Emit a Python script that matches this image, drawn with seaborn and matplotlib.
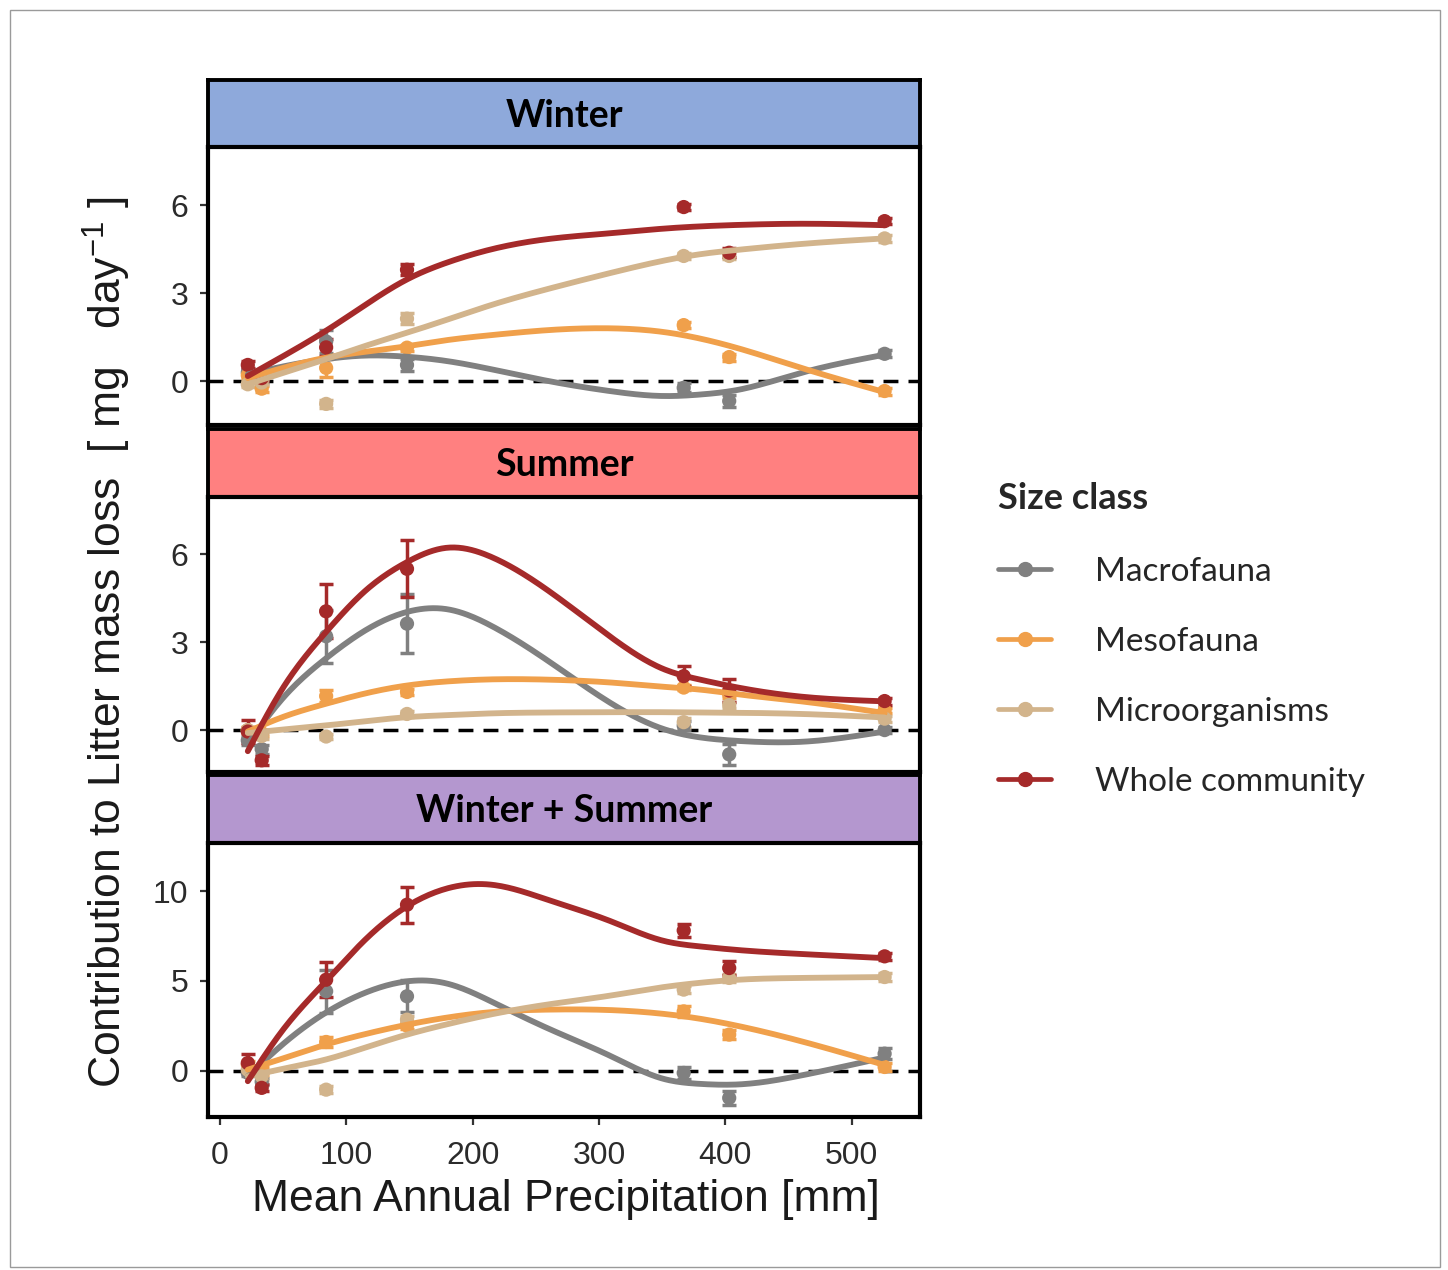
import numpy as np
import pandas as pd
import matplotlib
matplotlib.use("Agg")
import matplotlib.pyplot as plt
import seaborn as sns
from matplotlib.lines import Line2D
from matplotlib.patches import Rectangle

# ---------------- data ----------------
SEASONS = ["Winter", "Summer", "Winter + Summer"]
SERIES = ["Macrofauna", "Mesofauna", "Microorganisms", "Whole community"]
COLORS = ["#808080", "#F0A04B", "#D2B48C", "#A52A2A"]
STRIP_COLORS = ["#8EA9DB", "#FF8080", "#B497CF"]

SITES = [22, 33, 84, 148, 367, 403, 526]

# observed means (per site) and error bars
w_macro = [0.30, 0.05, 1.35, 0.55, -0.23, -0.68, 0.93]
w_macro_err = [0.10, 0.10, 0.40, 0.20, 0.15, 0.20, 0.12]
w_meso = [0.20, -0.26, 0.45, 1.14, 1.91, 0.82, -0.34]
w_meso_err = [0.10, 0.10, 0.30, 0.10, 0.10, 0.12, 0.12]
w_micro = [-0.11, -0.05, -0.78, 2.13, 4.27, 4.27, 4.87]
w_micro_err = [0.10, 0.10, 0.15, 0.18, 0.10, 0.10, 0.12]
w_whole = [0.55, 0.10, 1.15, 3.80, 5.94, 4.38, 5.46]
w_whole_err = [0.12, 0.10, 0.30, 0.18, 0.10, 0.15, 0.10]

s_macro = [-0.35, -0.65, 3.20, 3.63, 0.15, -0.83, 0.00]
s_macro_err = [0.15, 0.15, 0.90, 1.00, 0.15, 0.35, 0.10]
s_meso = [0.00, -0.10, 1.16, 1.30, 1.45, 1.20, 0.67]
s_meso_err = [0.10, 0.10, 0.20, 0.10, 0.10, 0.10, 0.10]
s_micro = [0.00, -0.20, -0.22, 0.55, 0.27, 0.85, 0.39]
s_micro_err = [0.10, 0.10, 0.10, 0.10, 0.15, 0.10, 0.10]
s_whole = [-0.05, -1.03, 4.05, 5.50, 1.84, 1.35, 0.99]
s_whole_err = [0.40, 0.15, 0.92, 0.97, 0.35, 0.40, 0.12]

c_macro = [-0.10, -0.60, 4.43, 4.15, -0.11, -1.50, 0.96]
c_macro_err = [0.20, 0.20, 1.20, 0.90, 0.35, 0.40, 0.30]
c_meso = [0.35, 0.00, 1.61, 2.52, 3.31, 2.02, 0.22]
c_meso_err = [0.20, 0.20, 0.30, 0.20, 0.30, 0.25, 0.20]
c_micro = [0.07, -0.30, -1.04, 2.85, 4.52, 5.17, 5.22]
c_micro_err = [0.20, 0.20, 0.20, 0.20, 0.20, 0.20, 0.20]
c_whole = [0.44, -0.94, 5.07, 9.24, 7.81, 5.72, 6.37]
c_whole_err = [0.50, 0.20, 0.97, 1.00, 0.35, 0.40, 0.20]

# fitted smooth curves, read at these precipitation values
FIT_X = [22, 50, 84, 115, 148, 180, 215, 260, 310, 350, 380, 410, 460, 526]
w_fit_macro = [0.23, 0.50, 0.75, 0.87, 0.83, 0.68, 0.40, 0.00, -0.35, -0.51, -0.46, -0.30, 0.28, 0.90]
w_fit_meso = [0.10, 0.45, 0.80, 1.00, 1.19, 1.40, 1.57, 1.74, 1.80, 1.68, 1.45, 1.12, 0.45, -0.38]
w_fit_micro = [-0.11, 0.28, 0.75, 1.20, 1.65, 2.10, 2.60, 3.15, 3.70, 4.10, 4.33, 4.48, 4.68, 4.87]
w_fit_whole = [0.17, 0.85, 1.72, 2.60, 3.47, 4.05, 4.50, 4.85, 5.05, 5.20, 5.28, 5.33, 5.37, 5.32]

s_fit_macro = [-0.47, 1.10, 2.45, 3.40, 4.03, 4.12, 3.55, 2.35, 0.90, 0.05, -0.25, -0.37, -0.40, -0.05]
s_fit_meso = [-0.05, 0.45, 0.90, 1.25, 1.52, 1.66, 1.73, 1.72, 1.62, 1.48, 1.38, 1.22, 0.98, 0.58]
s_fit_micro = [-0.10, 0.02, 0.16, 0.30, 0.44, 0.51, 0.57, 0.60, 0.61, 0.61, 0.60, 0.59, 0.55, 0.43]
s_fit_whole = [-0.72, 1.45, 3.35, 4.75, 5.73, 6.22, 5.90, 4.75, 3.15, 2.10, 1.72, 1.45, 1.14, 0.98]

c_fit_macro = [-0.30, 1.50, 3.25, 4.35, 4.98, 4.85, 3.85, 2.35, 0.80, -0.42, -0.72, -0.75, -0.25, 0.75]
c_fit_meso = [0.07, 0.70, 1.47, 2.05, 2.57, 2.97, 3.27, 3.41, 3.38, 3.18, 2.90, 2.50, 1.65, 0.33]
c_fit_micro = [-0.30, 0.12, 0.64, 1.30, 2.02, 2.60, 3.15, 3.70, 4.20, 4.65, 4.90, 5.07, 5.17, 5.22]
c_fit_whole = [-0.57, 2.30, 5.00, 7.30, 9.15, 10.15, 10.35, 9.50, 8.30, 7.25, 6.92, 6.72, 6.50, 6.27]

Y_TICKS = [[0, 3, 6], [0, 3, 6], [0, 5, 10]]
Y_LIMS = [(-1.5, 7.99), (-1.43, 7.95), (-2.56, 12.67)]
X_TICKS = [0, 100, 200, 300, 400, 500]
X_LIM = (-9.5, 554)

points = {
    "Winter": [(w_macro, w_macro_err), (w_meso, w_meso_err), (w_micro, w_micro_err), (w_whole, w_whole_err)],
    "Summer": [(s_macro, s_macro_err), (s_meso, s_meso_err), (s_micro, s_micro_err), (s_whole, s_whole_err)],
    "Winter + Summer": [(c_macro, c_macro_err), (c_meso, c_meso_err), (c_micro, c_micro_err), (c_whole, c_whole_err)],
}
fits = {
    "Winter": [w_fit_macro, w_fit_meso, w_fit_micro, w_fit_whole],
    "Summer": [s_fit_macro, s_fit_meso, s_fit_micro, s_fit_whole],
    "Winter + Summer": [c_fit_macro, c_fit_meso, c_fit_micro, c_fit_whole],
}


def natural_spline(x, y, xs):
    """Smooth rendering of a fitted curve read at knots x."""
    x = np.asarray(x, float)
    y = np.asarray(y, float)
    n = len(x)
    h = np.diff(x)
    A = np.zeros((n, n))
    b = np.zeros(n)
    A[0, 0] = 1
    A[-1, -1] = 1
    for i in range(1, n - 1):
        A[i, i - 1] = h[i - 1]
        A[i, i] = 2 * (h[i - 1] + h[i])
        A[i, i + 1] = h[i]
        b[i] = 6 * ((y[i + 1] - y[i]) / h[i] - (y[i] - y[i - 1]) / h[i - 1])
    M = np.linalg.solve(A, b)
    idx = np.clip(np.searchsorted(x, xs) - 1, 0, n - 2)
    x0, x1 = x[idx], x[idx + 1]
    y0, y1 = y[idx], y[idx + 1]
    m0, m1 = M[idx], M[idx + 1]
    hh = x1 - x0
    t0 = x1 - xs
    t1 = xs - x0
    return (m0 * t0 ** 3 + m1 * t1 ** 3) / (6 * hh) + (y0 / hh - m0 * hh / 6) * t0 + (y1 / hh - m1 * hh / 6) * t1


# ---------------- figure ----------------
sns.set_theme(style="white")
plt.rcParams["font.family"] = ["Liberation Sans", "DejaVu Sans"]
plt.rcParams["mathtext.fontset"] = "custom"
plt.rcParams["mathtext.rm"] = "Liberation Sans"
plt.rcParams["mathtext.it"] = "Liberation Sans"

W, H = 1448, 1270
fig = plt.figure(figsize=(W / 100, H / 100), dpi=100)
fig.patch.set_facecolor("white")
fig.add_artist(Rectangle((10 / W, 3 / H), 1430 / W, 1257 / H, transform=fig.transFigure,
                         fill=False, edgecolor="#9a9a9a", lw=1.0))


def rect(x0, y0, x1, y1):
    return [x0 / W, 1 - y1 / H, (x1 - x0) / W, (y1 - y0) / H]


strip_boxes = [(208, 80, 920, 147), (208, 429, 920, 497), (208, 775, 920, 843)]
plot_boxes = [(208, 147, 920, 425), (208, 497, 920, 772), (208, 843, 920, 1117)]

title_font = ["Lato", "DejaVu Sans"]
xs_dense = np.linspace(FIT_X[0], FIT_X[-1], 300)

for k, season in enumerate(SEASONS):
    sax = fig.add_axes(rect(*strip_boxes[k]))
    sax.set_facecolor(STRIP_COLORS[k])
    sax.set_xticks([])
    sax.set_yticks([])
    for sp in sax.spines.values():
        sp.set_color("black")
        sp.set_linewidth(2.8)
    sax.text(0.5, 0.47, season, ha="center", va="center", fontsize=27, fontweight="bold",
             family=title_font, color="black", transform=sax.transAxes)

    ax = fig.add_axes(rect(*plot_boxes[k]))
    ax.set_facecolor("white")
    ax.axhline(0, color="black", ls=(0, (4.3, 2.9)), lw=2.5, zorder=1)

    rows = []
    for j, name in enumerate(SERIES):
        vals, errs = points[season][j]
        for xv, yv, ev in zip(SITES, vals, errs):
            rows.append({"mm": xv, "value": yv, "err": ev, "Size class": name})
    pdf = pd.DataFrame(rows)

    for j, name in enumerate(SERIES):
        sub = pdf[pdf["Size class"] == name]
        ax.errorbar(sub["mm"], sub["value"], yerr=sub["err"], fmt="none", ecolor=COLORS[j],
                    elinewidth=2.5, capsize=5, capthick=2.5, zorder=2)
    sns.scatterplot(data=pdf, x="mm", y="value", hue="Size class", hue_order=SERIES,
                    palette=COLORS, s=105, edgecolor="none", legend=False, ax=ax, zorder=3)

    crows = []
    for j, name in enumerate(SERIES):
        ys = natural_spline(FIT_X, fits[season][j], xs_dense)
        for xv, yv in zip(xs_dense, ys):
            crows.append({"mm": xv, "fit": yv, "Size class": name})
    cdf = pd.DataFrame(crows)
    sns.lineplot(data=cdf, x="mm", y="fit", hue="Size class", hue_order=SERIES, palette=COLORS,
                 lw=4.2, legend=False, ax=ax, zorder=4, sort=False, estimator=None)

    ax.set_xlim(*X_LIM)
    ax.set_ylim(*Y_LIMS[k])
    ax.set_yticks(Y_TICKS[k])
    ax.set_xlabel("")
    ax.set_ylabel("")
    for sp in ax.spines.values():
        sp.set_color("black")
        sp.set_linewidth(3.0)
    ax.tick_params(axis="y", direction="out", length=6, width=1.6, color="#333333",
                   labelsize=23, labelcolor="#2b2b2b", pad=8, left=True)
    if k < 2:
        ax.set_xticks([])
    else:
        ax.set_xticks(X_TICKS)
        ax.tick_params(axis="x", direction="out", length=6, width=1.6, color="#333333",
                       labelsize=23, labelcolor="#2b2b2b", pad=11, bottom=True)

fig.text(566 / W, 1 - 1199 / H, "Mean Annual Precipitation [mm]", ha="center", va="center",
         fontsize=32, color="#1a1a1a")
fig.text(107 / W, 1 - 642 / H, r"Contribution to Litter mass loss  [ mg   day$^{-1}$ ]",
         rotation=90, ha="center", va="center", fontsize=32, color="#1a1a1a")

handles = [Line2D([0], [0], color=c, lw=3.4, marker="o", markersize=10) for c in COLORS]
leg = fig.legend(handles, SERIES, loc="upper left", bbox_to_anchor=(968 / W, 1 - 452 / H),
                 frameon=False, title="Size class", alignment="left",
                 prop={"family": title_font, "size": 24},
                 title_fontproperties={"family": title_font, "size": 26, "weight": "bold"},
                 handlelength=1.6, handletextpad=1.3, labelspacing=1.2)
leg._legend_box.sep = 30

fig.savefig("out.png", dpi=100)
